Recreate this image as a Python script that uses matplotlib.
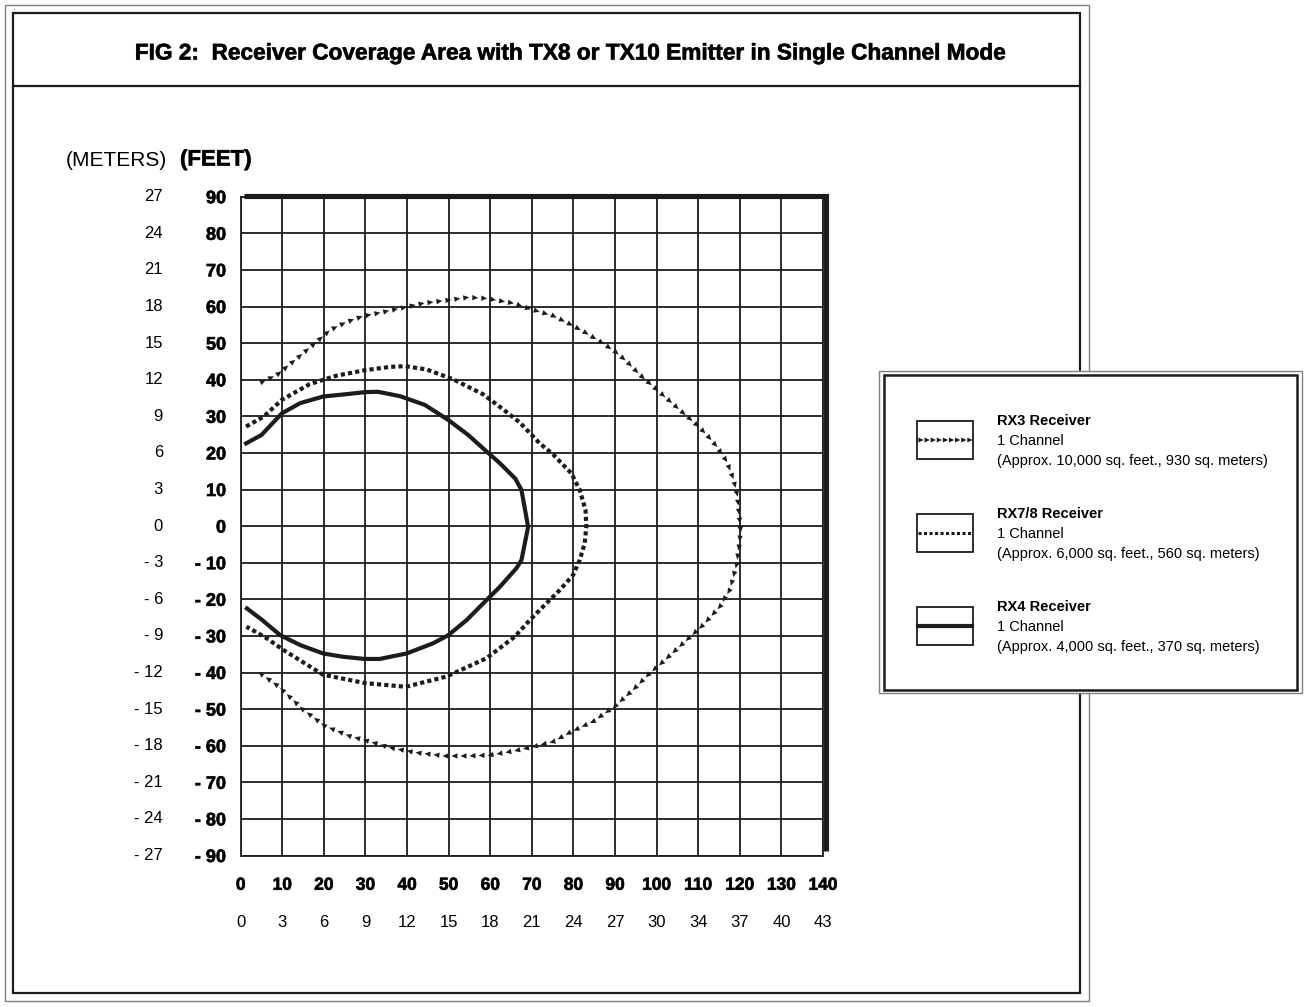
import numpy as np
import matplotlib
matplotlib.use("Agg")
import matplotlib.pyplot as plt
import matplotlib.font_manager as fm
import matplotlib.patheffects as pe
from matplotlib.patches import Rectangle
from matplotlib.patheffects import AbstractPathEffect
from matplotlib.path import Path
from matplotlib.transforms import Affine2D

# axis labels (feet grid, metre equivalents)
x_feet = list(range(0, 141, 10))
x_meters = [0, 3, 6, 9, 12, 15, 18, 21, 24, 27, 30, 34, 37, 40, 43]
y_feet = list(range(90, -91, -10))
y_meters = [27, 24, 21, 18, 15, 12, 9, 6, 3, 0, -3, -6, -9, -12, -15, -18, -21, -24, -27]

# RX3 receiver coverage edge (feet), traced clockwise
rx3_x = [4.4, 8.7, 13.5, 18.3, 21.5, 25.5, 29.5, 33.5, 38.3, 43.9, 50.3, 54.7, 59.1, 65.5,
         69.1, 75.2, 78.8, 82.8, 86.4, 90.0, 92.8, 96.0, 99.2, 102.4, 105.6, 108.8, 111.7,
         114.5, 116.9, 118.4, 119.4, 119.8, 120.2, 119.8, 119.2, 117.6, 115.2, 111.2, 106.4,
         101.6, 97.9, 94.3, 89.9, 84.7, 79.5, 75.1, 70.3, 65.5, 59.9, 54.3, 49.1, 42.3, 36.2,
         30.2, 26.3, 20.2, 15.0, 9.0, 3.4]
rx3_y = [39.0, 41.3, 45.8, 50.4, 53.6, 55.8, 57.4, 58.3, 59.5, 60.9, 61.8, 62.5, 62.2, 60.9,
         59.5, 57.4, 55.4, 52.9, 50.4, 47.7, 45.0, 41.3, 38.1, 34.9, 31.7, 28.5, 25.4,
         21.7, 17.6, 13.1, 8.5, 3.5, -1.1, -5.6, -10.6, -17.4, -22.0, -27.0, -32.0,
         -37.0, -40.7, -44.8, -49.3, -53.4, -56.2, -58.9, -60.3, -61.5, -62.6, -62.8, -62.8, -61.9, -60.6,
         -58.6, -57.4, -54.6, -50.1, -43.7, -39.2]

# RX7/8 receiver
rx78_x = [1.3, 5.5, 9.9, 16.6, 23.0, 29.9, 35.9, 39.5, 44.7, 51.1, 58.3, 63.1, 67.1, 71.9, 75.1,
          79.5, 81.5, 82.9, 83.1, 82.7, 81.5, 79.9, 76.7, 72.7, 69.5, 65.9, 59.1, 49.5, 39.7,
          29.9, 19.8, 10.2, 5.8, 1.4]
rx78_y = [27.2, 29.9, 34.5, 38.8, 41.1, 42.6, 43.5, 43.7, 42.8, 40.1, 36.0, 31.9, 28.3, 22.6, 19.6,
          14.4, 9.9, 4.4, -0.2, -4.7, -9.3, -13.4, -17.5, -22.0, -25.7, -30.2, -36.1, -41.1, -43.9,
          -42.9, -40.6, -33.8, -30.3, -27.5]

# RX4 receiver
rx4_x = [1.3, 5.0, 9.9, 14.3, 19.8, 25.0, 29.9, 33.0, 38.3, 44.3, 49.9, 54.7, 59.5, 62.3, 66.0,
         67.5, 69.1, 67.5, 66.3, 62.3, 59.9, 54.3, 49.9, 46.3, 39.9, 33.4, 29.8, 24.6, 19.8,
         14.3, 9.5, 5.2, 1.5]
rx4_y = [22.6, 24.9, 30.8, 33.6, 35.4, 36.0, 36.6, 36.7, 35.5, 33.1, 29.0, 24.9, 20.0, 17.2, 13.0,
         9.9, -0.2, -9.3, -11.5, -16.6, -19.3, -25.7, -29.8, -32.0, -34.8, -36.3, -36.3, -35.7, -34.8,
         -32.5, -29.8, -25.7, -22.5]

legend_names = ["RX3 Receiver", "RX7/8 Receiver", "RX4 Receiver"]
legend_areas = ["(Approx. 10,000 sq. feet., 930 sq. meters)",
                "(Approx. 6,000 sq. feet., 560 sq. meters)",
                "(Approx. 4,000 sq. feet., 370 sq. meters)"]

INK = "#1c1c1c"
HEAVY = [pe.withStroke(linewidth=0.5, foreground=INK)]


class Arrowheads(AbstractPathEffect):
    """Draw small filled triangles along a line, pointing the way it runs."""

    def __init__(self, spacing=6.5, length=4.3, width=3.9):
        super().__init__()
        self.spacing, self.length, self.width = spacing, length, width

    def draw_path(self, renderer, gc, tpath, affine, rgbFace=None):
        pts = affine.transform(tpath.vertices)
        d = np.diff(pts, axis=0)
        seg = np.hypot(d[:, 0], d[:, 1])
        ok = seg > 0
        d, seg, start = d[ok], seg[ok], pts[:-1][ok]
        cum = np.concatenate([[0], np.cumsum(seg)])
        sp = renderer.points_to_pixels(self.spacing)
        L = renderer.points_to_pixels(self.length)
        W = renderer.points_to_pixels(self.width)
        s = np.arange(sp / 2, cum[-1], sp)
        i = np.clip(np.searchsorted(cum, s, side="right") - 1, 0, len(seg) - 1)
        t = (s - cum[i]) / seg[i]
        p = start[i] + d[i] * t[:, None]
        u = d[i] / seg[i][:, None]
        n = np.stack([-u[:, 1], u[:, 0]], axis=1)
        gc0 = renderer.new_gc()
        gc0.copy_properties(gc)
        gc0.set_linewidth(0)
        face = gc.get_rgb()
        codes = [Path.MOVETO, Path.LINETO, Path.LINETO, Path.CLOSEPOLY]
        for pk, uk, nk in zip(p, u, n):
            tri = np.array([pk + uk * L / 2,
                            pk - uk * L / 2 + nk * W / 2,
                            pk - uk * L / 2 - nk * W / 2,
                            pk + uk * L / 2])
            renderer.draw_path(gc0, Path(tri, codes), Affine2D(), face)
        gc0.restore()


avail = {f.name for f in fm.fontManager.ttflist}
NARROW = "Liberation Sans Narrow" if "Liberation Sans Narrow" in avail else "Liberation Sans"
plt.rcParams["font.family"] = ["Liberation Sans", "DejaVu Sans"]

W_PX, H_PX = 1304, 1007
fig = plt.figure(figsize=(W_PX / 100, H_PX / 100), dpi=100)

# plot area in pixels: x 240.7..823, y 196.7..855.5
ax = fig.add_axes([240.7 / W_PX, 1 - 855.5 / H_PX, (823 - 240.7) / W_PX, (855.5 - 196.7) / H_PX])
ax.set_xlim(0, 140)
ax.set_ylim(-90, 90)
ax.set_xticks(x_feet)
ax.set_yticks(y_feet)
ax.grid(True, color=INK, lw=1.3)
ax.set_axisbelow(True)
for sp in ax.spines.values():
    sp.set_color(INK)
    sp.set_linewidth(1.3)
ax.tick_params(length=0)
ax.set_xticklabels([str(v) for v in x_feet], fontsize=12.5, fontweight="bold")
ax.set_yticklabels([f"- {abs(v)}" if v < 0 else str(v) for v in y_feet],
                   fontsize=13, fontweight="bold")
for lab in ax.get_xticklabels() + ax.get_yticklabels():
    lab.set_path_effects(HEAVY)
ax.tick_params(axis="x", pad=16)
ax.tick_params(axis="y", pad=10.5)

# metre scales
for fv, mv in zip(y_feet, y_meters):
    ax.text(-0.1334, fv, f"- {abs(mv)}" if mv < 0 else str(mv), transform=ax.get_yaxis_transform(),
            ha="right", va="center", fontsize=12)
for fv, mv in zip(x_feet, x_meters):
    ax.text(fv, -0.101, str(mv), transform=ax.get_xaxis_transform(),
            ha="center", va="center", fontsize=12)

# heavy shadow along top and right edge of the grid
ax.plot([0.0057, 1.0043, 1.0043], [1.0018, 1.0018, 0.0068], transform=ax.transAxes,
        color=INK, lw=3.7, solid_joinstyle="miter", solid_capstyle="butt", clip_on=False)

# coverage curves
ax.plot(rx3_x, rx3_y, color=INK, path_effects=[Arrowheads()])
ax.plot(rx78_x, rx78_y, color=INK, lw=3.0, linestyle=(0, (1, 0.75)), dash_capstyle="butt")
ax.plot(rx4_x, rx4_y, color=INK, lw=3.0, solid_joinstyle="round")

# overlay in pixel coordinates for frame, title and legend
fa = fig.add_axes([0, 0, 1, 1], zorder=2)
fa.set_xlim(0, W_PX)
fa.set_ylim(H_PX, 0)
fa.axis("off")
fa.patch.set_alpha(0)

fa.add_patch(Rectangle((5, 5), 1084, 996, fill=False, ec="#808080", lw=1.0))
fa.add_patch(Rectangle((13, 13), 1067, 980, fill=False, ec=INK, lw=1.6))
fa.plot([13, 1080], [86, 86], color=INK, lw=1.6)
fa.text(569, 53, "FIG 2:  Receiver Coverage Area with TX8 or TX10 Emitter in Single Channel Mode",
        ha="center", va="center", fontsize=16.3, fontweight="bold", path_effects=HEAVY)
fa.text(66, 160, "(METERS)", ha="left", va="center", fontsize=15)
fa.text(180, 160, "(FEET)", ha="left", va="center", fontsize=16, fontweight="bold",
        path_effects=HEAVY)

# legend box
fa.add_patch(Rectangle((879, 371), 423, 322, fc="white", ec="#808080", lw=1.0))
fa.add_patch(Rectangle((884, 375), 413, 315, fill=False, ec=INK, lw=1.8))
box_tops = [421, 514, 607]
styles = [dict(path_effects=[Arrowheads(spacing=4.4, length=3.8, width=3.6)]),
          dict(lw=2.2, linestyle=(0, (1, 0.8)), dash_capstyle="butt"),
          dict(lw=3.0)]
for top, name, area, st in zip(box_tops, legend_names, legend_areas, styles):
    fa.add_patch(Rectangle((917, top), 56, 38, fill=False, ec=INK, lw=1.3))
    fa.plot([918, 972], [top + 19, top + 19], color=INK, **st)
    fa.text(997, top, name, ha="left", va="center", fontsize=10.5, fontweight="bold", family=NARROW)
    fa.text(997, top + 20, "1 Channel", ha="left", va="center", fontsize=10.5, family=NARROW)
    fa.text(997, top + 40, area, ha="left", va="center", fontsize=10.5, family=NARROW)

fig.savefig("out.png", dpi=100)
